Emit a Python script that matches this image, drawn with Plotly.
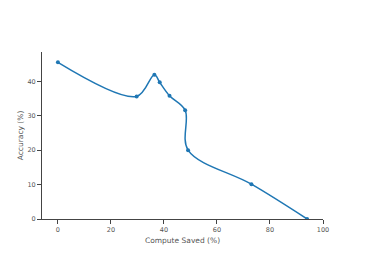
import plotly.graph_objects as go

compute_saved = [0, 29.7, 36.4, 38.4, 42.1, 48.0, 49.1, 73.0, 94.0]
accuracy = [45.5, 35.6, 41.9, 39.7, 35.8, 31.6, 20.0, 10.1, 0.0]

fig = go.Figure(go.Scatter(
    x=compute_saved, y=accuracy, mode="lines+markers",
    line=dict(color="#1f77b4", width=1.5, shape="spline", smoothing=1),
    marker=dict(size=4, color="#1f77b4"),
))

axis_common = dict(showline=True, linecolor="#444", linewidth=1, ticks="outside",
                   ticklen=4, tickcolor="#444", showgrid=False, zeroline=False,
                   tickfont=dict(size=6.5, color="#555"))
fig.update_layout(
    width=358, height=253,
    margin=dict(l=34, r=43, t=44, b=42),
    paper_bgcolor="white", plot_bgcolor="white",
    font=dict(family="DejaVu Sans, Verdana, sans-serif", size=7.5, color="#555"),
    showlegend=False,
    xaxis=dict(title=dict(text="Compute Saved (%)", font=dict(size=7.5), standoff=4),
               range=[-6, 100], tickvals=[0, 20, 40, 60, 80, 100], **axis_common),
    yaxis=dict(title=dict(text="Accuracy (%)", font=dict(size=7.5), standoff=2),
               range=[0, 48.5], tickvals=[0, 10, 20, 30, 40], **axis_common),
)
fig.write_html("out.html")
